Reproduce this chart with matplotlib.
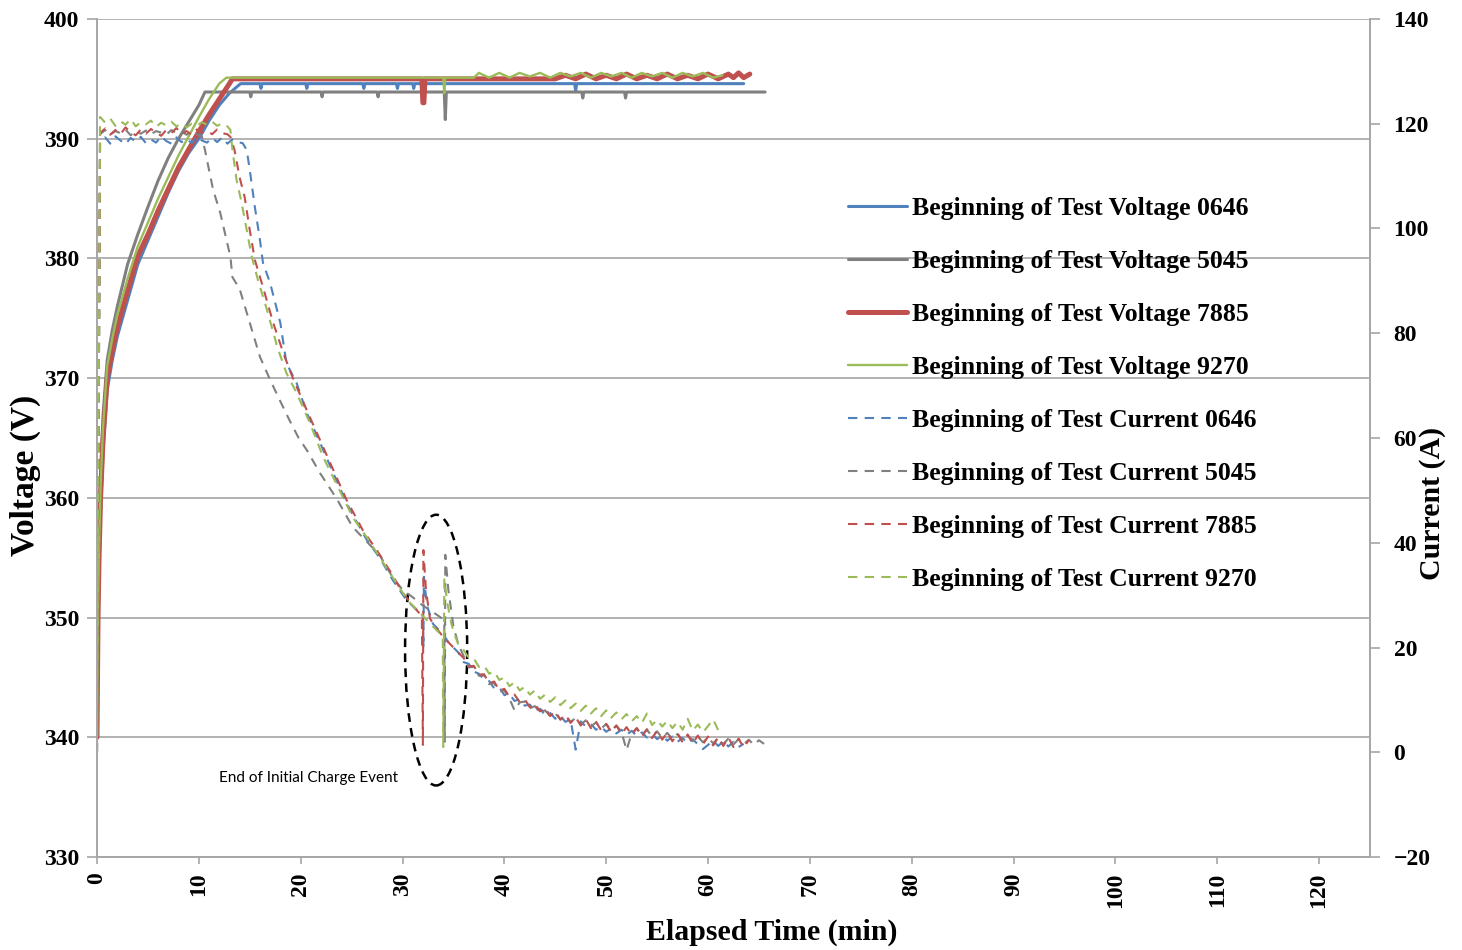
import numpy as np
import matplotlib as mpl
mpl.use("Agg")
import matplotlib.pyplot as plt
from matplotlib.patches import Ellipse

# ---------------------------------------------------------------- data
# voltage rise (min, V) -- shared sampling of the charge ramp
t_rise = [0, 0.05, 0.1, 0.2, 0.35, 0.6, 1.0, 1.5, 2, 3, 4, 5, 6, 7, 8, 9, 10, 11, 12, 13]

v_rise_0646 = [340, 345, 349, 354, 359, 364, 369, 371.5, 373.5, 376.5, 379.5, 381.5,
               383.5, 385.5, 387.3, 388.8, 390.0, 391.5, 392.8, 393.8]
v_rise_5045 = [340, 346, 352, 357, 362, 367, 371.5, 374, 376, 379.5, 382.0, 384.3,
               386.5, 388.4, 390.0, 391.4, 392.8]
v_rise_7885 = [340, 345, 350, 355, 360, 365, 370, 372.3, 374.3, 377.3, 380.2, 382.0,
               384.0, 385.8, 387.6, 389.1, 390.6, 392.0, 393.3, 394.6]
v_rise_9270 = [340, 346, 351, 356, 361, 366, 371, 373.3, 375.3, 378.3, 381.0, 383.0,
               385.0, 386.8, 388.6, 390.2, 391.8, 393.3, 394.6]

# voltage plateau (min, V)
t_plat_0646 = [14.1, 16.0, 16.1, 16.2, 20.5, 20.6, 20.7, 26.1, 26.2, 26.3, 29.4, 29.5,
               29.6, 31.0, 31.1, 31.2, 46.9, 47.0, 47.1, 63.5]
v_plat_0646 = [394.6, 394.6, 394.2, 394.6, 394.6, 394.2, 394.6, 394.6, 394.2, 394.6, 394.6,
               394.2, 394.6, 394.6, 394.2, 394.6, 394.6, 394.0, 394.6, 394.6]
t_plat_5045 = [10.6, 15.0, 15.1, 15.2, 22.0, 22.1, 22.2, 27.5, 27.6, 27.7, 34.1, 34.2,
               34.3, 47.6, 47.7, 47.8, 51.8, 51.9, 52.0, 65.6]
v_plat_5045 = [393.9, 393.9, 393.5, 393.9, 393.9, 393.5, 393.9, 393.9, 393.5, 393.9, 393.9,
               391.6, 393.9, 393.9, 393.4, 393.9, 393.9, 393.4, 393.9, 393.9]
t_plat_7885 = [13.3, 31.9, 32.0, 32.1, 32.2, 45.0, 46.0, 47.0, 48.0, 49.0, 50.0, 51.0,
               52.0, 53.0, 54.0, 55.0, 56.0, 57.0, 58.0, 59.0, 60.0, 61.0, 62.0, 62.5,
               63.0, 63.5, 64.1]
v_plat_7885 = [395.0, 395.0, 393.0, 393.0, 395.0, 395.0, 395.3, 395.0, 395.4, 395.0, 395.3,
               395.0, 395.4, 395.0, 395.3, 395.0, 395.4, 395.0, 395.3, 395.0, 395.4, 395.0,
               395.4, 395.1, 395.5, 395.1, 395.4]
t_plat_9270 = [12.7, 34.0, 34.1, 34.2, 37.0, 37.5, 38.5, 39.5, 40.5, 41.5, 42.5, 43.5,
               44.5, 45.5, 46.5, 47.5, 48.5, 49.5, 50.5, 51.5, 52.5, 53.5, 54.5, 55.5,
               56.5, 57.5, 58.5, 59.5, 60.5, 61.4]
v_plat_9270 = [395.1, 395.1, 393.8, 395.1, 395.1, 395.5, 395.1, 395.5, 395.1, 395.5, 395.2,
               395.5, 395.1, 395.5, 395.2, 395.5, 395.1, 395.5, 395.2, 395.5, 395.1, 395.5,
               395.2, 395.5, 395.1, 395.5, 395.2, 395.5, 395.1, 395.3]

# current, constant-current phase (A) sampled every 0.5 min from 0.3 min
i_flat_0646 = [116.5, 117.4, 116.2, 117.6, 116.8, 116.1, 117.3, 116.6, 117.5, 116.3, 117.0,
               116.4, 117.6, 116.7, 116.2, 117.4, 116.5, 117.1, 116.3, 117.5, 116.8, 116.4,
               117.3, 116.5, 117.4, 116.2, 117.0, 116.5]
i_flat_5045 = [118.0, 118.8, 117.9, 118.6, 118.2, 118.9, 117.8, 118.5, 118.1, 118.7, 118.0,
               118.6, 118.3, 117.9, 118.8, 118.2, 118.5, 117.9, 118.6, 118.0, 117.6]
i_flat_7885 = [118.2, 119.1, 117.9, 118.8, 118.0, 119.3, 118.4, 117.8, 118.9, 118.1, 119.0,
               118.3, 117.7, 118.8, 118.2, 119.2, 118.0, 118.6, 117.9, 118.9, 118.3, 118.7,
               118.0, 118.9, 118.2, 118.0]
i_flat_9270 = [121.3, 120.2, 121.0, 119.6, 120.5, 119.8, 120.9, 119.5, 120.3, 119.9, 120.6,
               119.4, 120.2, 119.7, 120.4, 119.5, 120.1, 119.3, 120.0, 119.6, 120.3, 119.8,
               120.4, 119.6, 120.1, 119.5]

# current taper incl. end-of-charge interruption (min, A)
t_mid_0646 = [14.3, 14.7, 15.0, 15.5, 16.0, 16.3, 17.0, 18.0, 18.6, 19.6, 20.6, 21.9, 23.2,
              24.5, 25.5, 26.5, 27.8, 29.0, 30.4, 31.5, 32.0, 32.05, 32.1, 32.4, 33.0,
              33.5, 34.0, 34.5, 35.0, 35.5]
i_mid_0646 = [116.3, 115.0, 111.2, 104.1, 97.8, 93.4, 89.6, 82.0, 74.3, 70.5, 64.8, 59.1,
              53.3, 47.6, 44.0, 40.5, 37.0, 33.0, 29.0, 27.0, 26.0, 20.0, 33.5, 28.0, 24.5,
              23.5, 22.5, 21.0, 20.0, 19.0]
t_mid_5045 = [10.6, 11.4, 12.1, 13.1, 13.3, 14.0, 15.0, 16.0, 17.0, 18.0, 18.9, 19.8, 20.6,
              21.9, 23.6, 25.1, 26.5, 27.8, 29.0, 30.0, 31.0, 32.0, 32.8, 33.7, 34.1, 34.15,
              34.2, 34.5, 35.0, 35.5]
i_mid_5045 = [115.0, 107.4, 103.0, 94.6, 90.7, 88.5, 82.0, 75.5, 71.1, 67.0, 63.4, 60.0,
              57.7, 53.3, 48.2, 43.0, 40.2, 37.5, 33.5, 31.0, 29.6, 28.0, 27.0, 25.8, 25.2,
              2.0, 37.7, 31.0, 24.0, 20.5]
t_mid_7885 = [13.1, 13.5, 14.0, 14.5, 15.0, 15.5, 16.3, 17.3, 18.3, 19.2, 20.6, 21.9, 23.2,
              24.5, 26.1, 27.5, 28.8, 30.0, 31.0, 31.9, 32.0, 32.05, 32.3, 32.7, 33.2, 33.8,
              34.5, 35.0, 35.5]
i_mid_7885 = [117.5, 115.0, 109.8, 106.0, 99.7, 94.0, 88.8, 82.0, 76.2, 71.6, 65.3, 59.6,
              53.9, 48.2, 42.4, 38.5, 34.5, 30.5, 28.0, 26.0, 1.4, 38.6, 31.0, 25.5, 24.0,
              22.5, 21.0, 20.0, 19.0]
t_mid_9270 = [13.1, 13.3, 13.7, 14.2, 14.7, 15.2, 15.8, 16.7, 17.7, 18.6, 19.6, 20.9, 22.2,
              23.8, 25.1, 26.5, 28.0, 29.5, 30.5, 31.5, 32.5, 33.5, 33.95, 34.0, 34.1, 34.4,
              34.8, 35.2, 35.6]
i_mid_9270 = [118.8, 115.0, 109.3, 104.9, 99.7, 94.6, 90.2, 84.4, 77.4, 72.4, 68.6, 62.9,
              56.4, 50.1, 44.9, 41.0, 36.5, 32.0, 29.0, 27.0, 25.0, 23.0, 22.0, 1.0, 33.0,
              28.5, 24.5, 22.0, 20.0]

# current tail (A), sampled every 0.5 min from 36 min
i_tail_0646 = [17.2, 16.9, 15.4, 15.0, 13.9, 13.6, 12.2, 12.4, 10.9, 11.1, 9.8, 10.1, 8.9,
               9.1, 7.9, 8.3, 7.1, 7.5, 6.4, 6.9, 5.8, 6.3, 0.5, 5.9, 4.9, 5.4, 4.3, 4.9,
               3.9, 4.6, 3.6, 4.3, 3.3, 4.1, 3.1, 3.8, 2.8, 3.5, 2.5, 3.2, 2.2, 3.0, 2.0,
               2.7, 1.7, 2.5, 1.5, 0.6, 1.4, 2.2, 1.2, 2.1, 1.1, 2.0, 1.0, 1.6]
i_tail_5045 = [18.4, 16.2, 16.3, 14.6, 14.7, 13.0, 13.2, 11.6, 11.8, 10.2, 8.0, 9.5, 9.7,
               8.4, 8.8, 7.6, 8.0, 6.9, 7.4, 6.3, 7.0, 5.8, 6.5, 5.3, 6.1, 4.9, 5.7, 4.5,
               5.4, 4.2, 5.1, 3.9, 0.4, 3.6, 4.6, 3.3, 4.3, 3.0, 4.0, 2.7, 3.7, 2.5, 3.5,
               2.3, 3.2, 2.1, 3.0, 1.9, 2.8, 1.7, 2.7, 1.6, 2.6, 1.5, 2.5, 1.5, 2.4, 1.4,
               2.3, 1.6]
i_tail_7885 = [18.0, 16.4, 16.5, 14.8, 14.9, 13.2, 13.5, 11.8, 12.1, 10.6, 11.0, 9.6, 10.1,
               8.6, 9.2, 7.8, 8.5, 6.9, 7.8, 6.2, 7.2, 5.6, 6.7, 5.1, 6.3, 4.6, 5.8, 4.2,
               5.4, 3.8, 5.1, 3.5, 4.8, 3.3, 4.6, 3.0, 4.4, 2.7, 4.1, 2.4, 3.8, 2.1, 3.6,
               1.9, 3.4, 1.7, 3.2, 1.5, 3.0, 1.3, 2.9, 1.2, 2.8, 1.0, 2.6, 0.9, 2.3]
i_tail_9270 = [19.5, 18.0, 17.9, 16.3, 16.6, 15.0, 15.4, 13.8, 14.3, 12.6, 13.4, 11.8, 12.5,
               11.0, 11.8, 10.2, 11.0, 9.6, 10.5, 9.0, 9.9, 8.4, 9.3, 7.9, 8.9, 7.4, 8.4,
               6.9, 8.0, 6.6, 7.6, 6.3, 7.3, 5.9, 6.9, 5.6, 7.4, 5.2, 6.2, 4.9, 6.0, 4.6,
               5.8, 4.3, 6.4, 4.1, 5.3, 3.8, 5.0, 6.3, 4.2]

units = ["0646", "5045", "7885", "9270"]
colors = {"0646": "#4F81BD", "5045": "#808080", "7885": "#C0504D", "9270": "#9BBB59"}
v_widths = {"0646": 2.2, "5045": 2.2, "7885": 3.6, "9270": 1.7}

rise = {"0646": v_rise_0646, "5045": v_rise_5045, "7885": v_rise_7885, "9270": v_rise_9270}
plat_t = {"0646": t_plat_0646, "5045": t_plat_5045, "7885": t_plat_7885, "9270": t_plat_9270}
plat_v = {"0646": v_plat_0646, "5045": v_plat_5045, "7885": v_plat_7885, "9270": v_plat_9270}
flat_i = {"0646": i_flat_0646, "5045": i_flat_5045, "7885": i_flat_7885, "9270": i_flat_9270}
mid_t = {"0646": t_mid_0646, "5045": t_mid_5045, "7885": t_mid_7885, "9270": t_mid_9270}
mid_i = {"0646": i_mid_0646, "5045": i_mid_5045, "7885": i_mid_7885, "9270": i_mid_9270}
tail_i = {"0646": i_tail_0646, "5045": i_tail_5045, "7885": i_tail_7885, "9270": i_tail_9270}

t_flat_grid = np.arange(0.3, 14.0, 0.5)
t_tail_grid = np.arange(36.0, 66.0, 0.5)

# ---------------------------------------------------------------- plot
plt.rcParams['font.family'] = ['Liberation Serif', 'DejaVu Serif']
plt.rcParams['font.weight'] = 'bold'
grid_col = "#A6A6A6"

fig = plt.figure(figsize=(14.62, 9.5), dpi=100)
ax = fig.add_axes([97/1462, 1-857/950, (1370-97)/1462, (857-19)/950])
ax2 = ax.twinx()

handles = []
for u in units:
    t = list(t_rise[:len(rise[u])]) + plat_t[u]
    v = rise[u] + plat_v[u]
    h, = ax.plot(t, v, color=colors[u], lw=v_widths[u], solid_capstyle='round',
                 label="Beginning of Test Voltage " + u)
    handles.append(h)

for u in units:
    t = [0.0] + list(t_flat_grid[:len(flat_i[u])]) + mid_t[u] + list(t_tail_grid[:len(tail_i[u])])
    i = [0.0] + flat_i[u] + mid_i[u] + tail_i[u]
    h, = ax2.plot(t, i, color=colors[u], lw=1.5, linestyle=(0, (4.5, 3.5)),
                  label="Beginning of Test Current " + u)
    handles.append(h)

ax.set_xlim(0, 125)
ax.set_ylim(330, 400)
ax2.set_ylim(-20, 140)
ax.set_xticks(np.arange(0, 121, 10))
ax.set_yticks(np.arange(330, 401, 10))
ax2.set_yticks(np.arange(-20, 141, 20))

for a in (ax, ax2):
    for s in a.spines.values():
        s.set_color(grid_col)
        s.set_linewidth(1.2)
    a.spines['top'].set_visible(False)

ax.yaxis.grid(True, color=grid_col, lw=1.2)
ax.set_axisbelow(True)
ax.tick_params(axis='y', length=7, width=1.2, color=grid_col, labelsize=17, pad=6)
ax.tick_params(axis='x', length=5, width=1.2, color=grid_col, labelsize=17, pad=6,
               labelrotation=90)
ax2.tick_params(axis='y', length=7, width=1.2, color=grid_col, labelsize=17, pad=10)

fig.text(25/1462, 1-475/950, "Voltage (V)", rotation=90, ha='center', va='center',
         fontsize=24, fontweight='bold')
fig.text(1432/1462, 1-503/950, "Current (A)", rotation=90, ha='center', va='center',
         fontsize=21.5, fontweight='bold')
fig.text(772/1462, 1-932/950, "Elapsed Time (min)", ha='center', va='center',
         fontsize=21.5, fontweight='bold')

# end-of-charge callout
ax2.add_patch(Ellipse((33.3, 19.5), 6.1, 51.7, fill=False, edgecolor='black', lw=1.8,
                      linestyle=(0, (3.5, 2.5))))
ax.text(20.8, 336.6, "End of Initial Charge Event", ha='center', va='center',
        fontsize=11, fontweight='normal', family=['Lato', 'DejaVu Sans'])

leg = ax2.legend(handles=handles, loc='upper left', frameon=False, fontsize=18.5,
                 bbox_to_anchor=(848/1462, 1-197/950), bbox_transform=fig.transFigure,
                 borderpad=0, borderaxespad=0, labelspacing=1.17, handlelength=2.3,
                 handletextpad=0.2)

fig.savefig("out.png", dpi=100)
